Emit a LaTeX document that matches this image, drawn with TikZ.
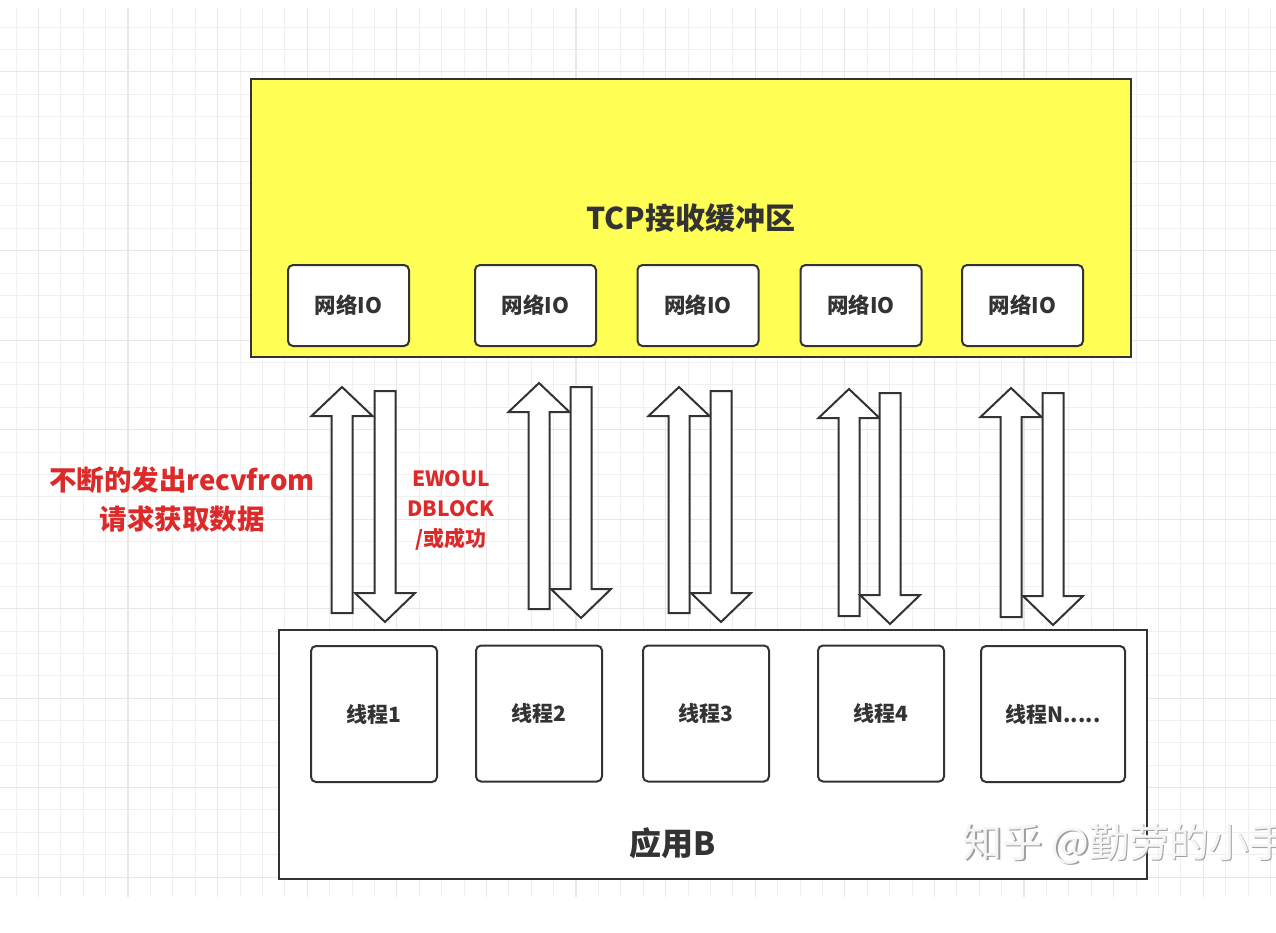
\documentclass[tikz,border=0pt]{standalone}
\usepackage{fontspec}
\setmainfont{Noto Sans CJK SC}
\usetikzlibrary{positioning}
\definecolor{boxline}{HTML}{333333}
\definecolor{bufyellow}{HTML}{FFFF55}
\definecolor{alertred}{HTML}{DC2A2A}
\definecolor{gridminor}{HTML}{F0F0F0}
\definecolor{gridmajor}{HTML}{E8E8E8}

\begin{document}
\begin{tikzpicture}[x=1pt, y=-1pt,
    gridMinor/.style={draw=gridminor, line width=1pt},
    gridMajor/.style={draw=gridmajor, line width=1.2pt},
    bufferBox/.style={rectangle, draw=boxline, fill=bufyellow, line width=2pt, minimum width=880pt, minimum height=278pt, inner sep=0pt, text=boxline, font=\fontsize{30pt}{35pt}\selectfont\bfseries},
    appBox/.style={rectangle, draw=boxline, fill=white, line width=2pt, minimum width=868pt, minimum height=249pt, inner sep=0pt},
    ioBox/.style={rectangle, rounded corners=5pt, draw=boxline, fill=white, line width=2pt, minimum width=121pt, minimum height=81pt, text=boxline, font=\fontsize{21.5pt}{25pt}\selectfont\bfseries},
    threadBox/.style={rectangle, rounded corners=5pt, draw=boxline, fill=white, line width=2pt, minimum width=126pt, minimum height=136pt, text=boxline, font=\fontsize{21pt}{25pt}\selectfont\bfseries},
    redLabel/.style={align=center, text=alertred, font=\bfseries},
    blockArrow/.style={draw=boxline, fill=white, line width=2pt, line join=miter}
]
    \useasboundingbox (0,0) rectangle (1276,932);
    \fill[white] (0,0) rectangle (1276,932);

    % background grid
    \foreach \i in {0,...,56}
        \draw[gridMinor] ({16+22.4*\i},8) -- ({16+22.4*\i},897);
    \foreach \j in {0,...,38}
        \draw[gridMinor] (0,{27+22.37*\j}) -- (1276,{27+22.37*\j});
    \foreach \i in {0,...,14}
        \draw[gridMajor] ({38.4+89.6*\i},8) -- ({38.4+89.6*\i},897);
    \foreach \j in {0,...,9}
        \draw[gridMajor] (0,{71.7+89.5*\j}) -- (1276,{71.7+89.5*\j});

    % TCP receive buffer
    \node[bufferBox] (tcpbuf) at (691,218) {TCP接收缓冲区};
    \node[ioBox] (io1) at (348.5,305.5) {网络IO};
    \node[ioBox] (io2) at (535.5,305.5) {网络IO};
    \node[ioBox] (io3) at (698,305.5) {网络IO};
    \node[ioBox] (io4) at (861,305.5) {网络IO};
    \node[ioBox] (io5) at (1022.5,305.5) {网络IO};

    % application B
    \node[appBox] (appB) at (713,754.5) {};
    \node[text=boxline, font=\fontsize{32pt}{38pt}\selectfont\bfseries] (appBlabel) at (673,843) {应用B};
    \node[threadBox] (th1) at (374,714) {线程1};
    \node[threadBox] (th2) at (539,713.5) {线程2};
    \node[threadBox] (th3) at (706,713.5) {线程3};
    \node[threadBox] (th4) at (881,713.5) {线程4};
    \node[threadBox, minimum width=144pt] (th5) at (1053,714) {线程N.....};

    % request / reply arrows
    \foreach \ux/\ut/\ub/\dx/\dt/\db in {342/387/613/385/391/622, 539/383/609/581/387/618, 679/387/613/721/391/622, 849/389/616/890/393/624, 1011/388/617/1053/393/625} {
        \draw[blockArrow] ({\ux-10.5},\ub) -- ({\ux-10.5},{\ut+29}) -- ({\ux-30.5},{\ut+29}) -- (\ux,\ut)
            -- ({\ux+30.5},{\ut+29}) -- ({\ux+10.5},{\ut+29}) -- ({\ux+10.5},\ub) -- cycle;
        \draw[blockArrow] ({\dx-10.5},\dt) -- ({\dx-10.5},{\db-29}) -- ({\dx-30},{\db-29}) -- (\dx,\db)
            -- ({\dx+30},{\db-29}) -- ({\dx+10.5},{\db-29}) -- ({\dx+10.5},\dt) -- cycle;
    }

    % labels
    \node[redLabel, font=\fontsize{27.5pt}{39pt}\selectfont\bfseries] (reqLabel) at (182,499) {不断的发出recvfrom\\请求获取数据};
    \node[redLabel, font=\fontsize{21pt}{30pt}\selectfont\bfseries] (replyLabel) at (451,510) {EWOUL\\DBLOCK\\/或成功};

    % watermark
    \node[anchor=west, text=gray!75, font=\fontsize{40pt}{48pt}\selectfont] (wmShadow) at (960.5,845.5) {知乎 @勤劳的小手};
    \node[anchor=west, text=gray!8, font=\fontsize{40pt}{48pt}\selectfont] (wm) at (959,844) {知乎 @勤劳的小手};
\end{tikzpicture}
\end{document}
